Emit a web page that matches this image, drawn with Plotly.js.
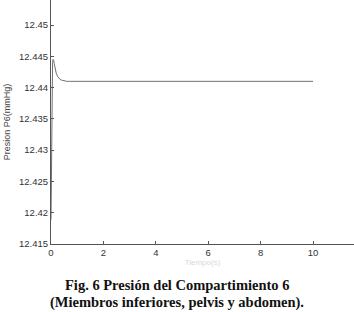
<!DOCTYPE html>
<html>
<head>
<meta charset="utf-8">
<script src="https://cdn.plot.ly/plotly-3.0.1.min.js"></script>
<style>html,body{margin:0;padding:0;background:#fff;}#chart{width:354px;height:312px;}</style>
</head>
<body>
<div id="chart"></div>
<script>
// Data
var tiempo = [0, 0.01, 0.02, 0.03, 0.04, 0.06, 0.08, 0.1, 0.12, 0.15, 0.2, 0.25, 0.3, 0.35, 0.4, 0.5, 0.6, 0.7, 0.8, 1, 2, 4, 6, 8, 10];
var presion = [12.4189, 12.4265, 12.4345, 12.4395, 12.4425, 12.4440, 12.4445, 12.4444, 12.4439, 12.4431, 12.4423, 12.4418, 12.4415, 12.4413, 12.4412, 12.44105, 12.4410, 12.4410, 12.4410, 12.4410, 12.4410, 12.4410, 12.4410, 12.4410, 12.4410];
var yTicks = [12.415, 12.42, 12.425, 12.43, 12.435, 12.44, 12.445, 12.45];
var yTickText = ['12.415', '12.42', '12.425', '12.43', '12.435', '12.44', '12.445', '12.45'];
var xTicks = [0, 2, 4, 6, 8, 10];
var captionLines = ['Fig. 6 Presión del Compartimiento 6', '(Miembros inferiores, pelvis y abdomen).'];

var W = 354, H = 312, mL = 51, mR = 0, mT = 0, mB = 68;
var pw = W - mL - mR, ph = H - mT - mB;
function px2paperX(px){ return (px - mL) / pw; }
function px2paperY(py){ return (H - mB - py) / ph; }

var trace = {
  x: tiempo, y: presion, type: 'scatter', mode: 'lines',
  line: {color: '#707070', width: 1}, hoverinfo: 'none'
};

var tickFont = {family: 'Liberation Sans, Arial, sans-serif', size: 9.5, color: '#333'};

var layout = {
  width: W, height: H,
  margin: {l: mL, r: mR, t: mT, b: mB, pad: 0},
  paper_bgcolor: '#fff', plot_bgcolor: '#fff',
  showlegend: false,
  xaxis: {
    range: [0, 11.565], tickvals: xTicks, ticktext: xTicks.map(String),
    ticks: 'inside', ticklen: 3, tickcolor: '#555', tickwidth: 1,
    showline: true, linecolor: '#555', linewidth: 1, showgrid: false, zeroline: false,
    tickfont: tickFont,
    title: {text: 'Tiempo(s)', font: {family: 'Liberation Sans, Arial, sans-serif', size: 8, color: '#d8d8d8'}, standoff: 0}
  },
  yaxis: {
    range: [12.415, 12.454], tickvals: yTicks, ticktext: yTickText,
    ticks: 'inside', ticklen: 3, tickcolor: '#555', tickwidth: 1,
    showline: true, linecolor: '#555', linewidth: 1, showgrid: false, zeroline: false,
    tickfont: tickFont,
    title: {text: 'Presion P6(mmHg)', font: {family: 'Liberation Sans, Arial, sans-serif', size: 9, color: '#444'}, standoff: 6}
  },
  annotations: captionLines.map(function(t, i){
    return {
      text: t, xref: 'paper', yref: 'paper',
      x: px2paperX(177), y: px2paperY(i === 0 ? 285 : 302),
      xanchor: 'center', yanchor: 'middle', showarrow: false,
      font: {family: 'Liberation Serif, Times New Roman, serif', size: 14.5, color: '#111', weight: 'bold'}
    };
  })
};

Plotly.newPlot('chart', [trace], layout, {staticPlot: true, displayModeBar: false});
</script>
</body>
</html>
